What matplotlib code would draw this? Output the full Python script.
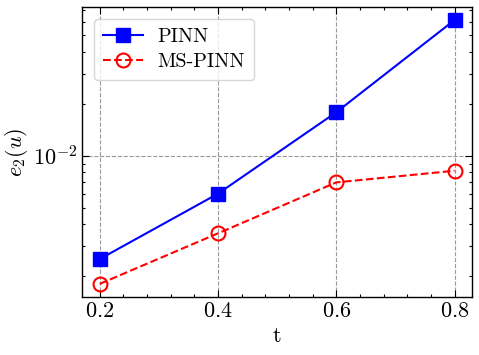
import numpy as np
import matplotlib
matplotlib.use('Agg')
import matplotlib.pyplot as plt
from matplotlib.ticker import AutoMinorLocator, LogLocator, NullFormatter

# data
t = [0.2, 0.4, 0.6, 0.8]
err_pinn = [2.51e-3, 6.02e-3, 1.79e-2, 6.15e-2]
err_mspinn = [1.80e-3, 3.54e-3, 7.00e-3, 8.18e-3]

plt.rcParams['font.family'] = 'serif'
plt.rcParams['font.serif'] = ['cmr10']
plt.rcParams['mathtext.fontset'] = 'cm'
plt.rcParams['axes.formatter.use_mathtext'] = True
plt.rcParams['font.size'] = 16

fig = plt.figure(figsize=(4.79, 3.55), dpi=100)
ax = fig.add_axes([0.1712, 0.1634, 0.8148, 0.8177])

ax.plot(t, err_pinn, '-s', color='blue', lw=1.5, ms=10, label='PINN')
ax.plot(t, err_mspinn, '--o', color='red', lw=1.5, ms=10, mfc='none', mew=1.5, label='MS-PINN')

ax.set_yscale('log')
ax.set_ylim(1.51e-3, 7.35e-2)
ax.set_xticks([0.2, 0.4, 0.6, 0.8])
ax.xaxis.set_minor_locator(AutoMinorLocator(5))
ax.yaxis.set_minor_locator(LogLocator(base=10, subs=np.arange(2, 10)))
ax.yaxis.set_minor_formatter(NullFormatter())

ax.tick_params(which='both', direction='in', top=True, right=True, width=0.8)
ax.tick_params(which='major', length=5)
ax.tick_params(which='minor', length=2.5)
for s in ax.spines.values():
    s.set_linewidth(1.0)

ax.grid(True, which='major', ls='--', color='gray', lw=0.8, alpha=0.8)
ax.set_xlabel('t', labelpad=4)
ax.set_ylabel(r'$e_2(u)$', labelpad=2)

leg = ax.legend(loc='upper left', fontsize=14.5, handlelength=2.0, handletextpad=0.7,
                borderpad=0.45, labelspacing=0.35, borderaxespad=0.6)
leg.get_frame().set_edgecolor('0.8')

fig.savefig('out.png', dpi=100)
